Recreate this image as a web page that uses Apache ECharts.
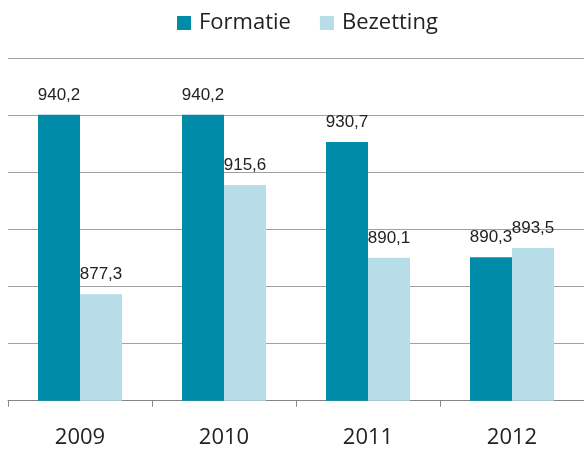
<!DOCTYPE html>
<html>
<head>
<meta charset="utf-8">
<script src="https://cdn.jsdelivr.net/npm/echarts@6/dist/echarts.min.js"></script>
<style>
  html, body { margin: 0; padding: 0; background: #fff; }
  #chart { width: 584px; height: 450px; }
</style>
</head>
<body>
<div id="chart"></div>
<script>
// data
const years = ["2009", "2010", "2011", "2012"]
const formatie = [940.2, 940.2, 930.7, 890.3]
const bezetting = [877.3, 915.6, 890.1, 893.5]

const chart = echarts.init(document.getElementById("chart"), null, { renderer: "canvas" })

// waarden met komma tonen
const fmt = (p) => String(p.value.toFixed(1)).replace(".", ",")

const barLabel = {
    show: true,
    position: "top",
    distance: 11,
    formatter: fmt,
    color: "#222",
    fontFamily: "Liberation Sans",
    fontSize: 17,
}

const option = {
    animation: false,
    legend: {
        top: 12,
        left: 177,
        padding: 0,
        itemWidth: 14,
        itemHeight: 14,
        itemGap: 29,
        icon: "rect",
        textStyle: { fontFamily: "Open Sans", fontSize: 22, color: "#222", padding: [0, 0, 0, 3] },
        data: ["Formatie", "Bezetting"],
    },
    grid: { left: 8, right: -4, top: 58.3, bottom: 49.3, containLabel: false },
    xAxis: {
        type: "category",
        data: years,
        axisLine: { lineStyle: { color: "#868686", width: 1 } },
        axisTick: { show: true, length: 6, lineStyle: { color: "#868686" } },
        axisLabel: { margin: 26, fontFamily: "Open Sans", fontSize: 22, color: "#222" },
    },
    yAxis: {
        type: "value",
        min: 840,
        max: 960,
        interval: 20,
        axisLabel: { show: false },
        axisLine: { show: false },
        axisTick: { show: false },
        splitLine: { lineStyle: { color: "#a0a0a0", width: 1 } },
    },
    series: [
        {
            name: "Formatie",
            type: "bar",
            data: formatie,
            barWidth: 42,
            barGap: "0%",
            itemStyle: { color: "#008ca8" },
            label: barLabel,
        },
        {
            name: "Bezetting",
            type: "bar",
            data: bezetting,
            barWidth: 42,
            barGap: "0%",
            itemStyle: { color: "#b7dde8" },
            label: barLabel,
        },
    ],
}

chart.setOption(option)
</script>
</body>
</html>
